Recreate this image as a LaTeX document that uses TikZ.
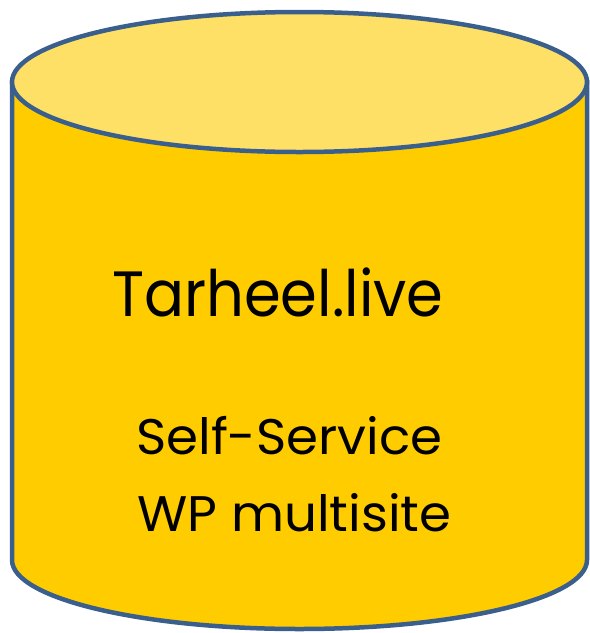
\documentclass[tikz,border=0pt]{standalone}
\usepackage{fontspec}
\setmainfont{Poppins}
\newfontfamily\titlefont{Poppins}[FakeStretch=0.925]
\newfontfamily\linefont{Poppins}[FakeStretch=1.03]
\definecolor{drumgold}{HTML}{FFCC00}
\definecolor{drumlid}{HTML}{FFE066}
\definecolor{drumedge}{HTML}{3A5F8C}
\tikzset{
  drum/.style={draw=drumedge, line width=4.5pt},
  bigtext/.style={anchor=base west, inner sep=0pt, font=\titlefont\fontsize{64}{64}\selectfont},
  smalltext/.style={anchor=base west, inner sep=0pt, font=\linefont\fontsize{50}{50}\selectfont}
}
\begin{document}
\begin{tikzpicture}[x=1pt,y=-1pt]
			\useasboundingbox (0,0) rectangle (590,633);
			% body
			\draw[drum, fill=drumgold] (12,82) -- (12,560)
				arc[start angle=180, end angle=360, x radius=287.5, y radius=-69] -- (587,82) -- cycle;
			% lid
			\draw[drum, fill=drumlid] (299.5,82) ellipse[x radius=287.5, y radius=70];
			\node[bigtext] (title) at (112,316) {Tarheel.live};
			\node[smalltext] (line1) at (136,454) {Self-Service};
			\node[smalltext] (line2) at (137,531) {WP multisite};
		\end{tikzpicture}
\end{document}
